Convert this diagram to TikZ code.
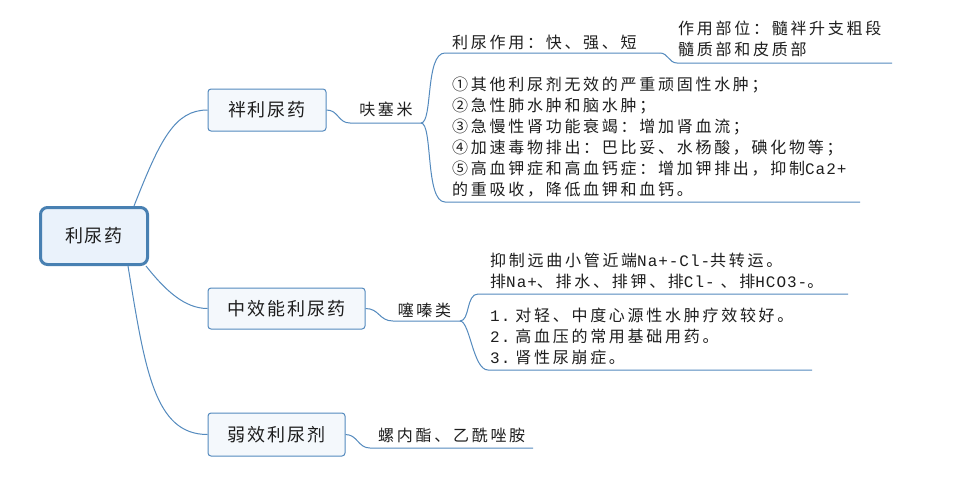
\documentclass[tikz,border=0pt]{standalone}
\usepackage{fontspec}
\usetikzlibrary{backgrounds}
\newfontfamily\cjk[LetterSpace=17]{Noto Sans CJK SC}
\newfontfamily\cjkbox[LetterSpace=11]{Noto Sans CJK SC}
\newfontfamily\cjkroot[LetterSpace=8]{Noto Sans CJK SC}
\newfontfamily\monolat[LetterSpace=6]{Liberation Mono}
\newcommand\lat[1]{{\monolat #1}}
\definecolor{lineblue}{RGB}{84,138,190}
\definecolor{rootborder}{RGB}{72,128,178}
\definecolor{rootfill}{RGB}{234,242,251}
\definecolor{boxfill}{RGB}{244,248,252}
\definecolor{txt}{RGB}{30,30,30}
\begin{document}
\begin{tikzpicture}[x=1pt,y=-1pt,
  conn/.style={draw=lineblue, line width=1pt},
  rootbox/.style={draw=rootborder, fill=rootfill, line width=3pt, rounded corners=7pt,
    minimum width=107pt, minimum height=57pt, inner sep=0pt, text=txt,
    font=\cjkroot\fontsize{18}{22}\selectfont},
  topicbox/.style={draw=lineblue, fill=boxfill, line width=1pt, rounded corners=3pt,
    inner sep=0pt, text=txt, font=\cjkbox\fontsize{18}{22}\selectfont},
  lbl/.style={inner sep=0pt, align=left, text=txt, font=\cjk\fontsize{16}{21}\selectfont},
  lblw/.style={lbl, anchor=west}]
\useasboundingbox (0,0) rectangle (957,477);

\node[rootbox] (root) at (94,236) {利尿药};
\node[topicbox, minimum width=118pt, minimum height=42pt] (b1) at (267,110) {袢利尿药};
\node[topicbox, minimum width=157pt, minimum height=41pt] (b2) at (286.5,308.5) {中效能利尿药};
\node[topicbox, minimum width=137pt, minimum height=43pt] (b3) at (276.5,434.5) {弱效利尿剂};

% labels
\node[lbl] (fu) at (386,109) {呋塞米};
\node[lblw] (s1) at (452,42) {利尿作用：快、强、短};
\node[lblw] (s3) at (678,39) {作用部位：髓袢升支粗段\\髓质部和皮质部};
\node[lblw] (s2) at (452,137) {①其他利尿剂无效的严重顽固性水肿；\\②急性肺水肿和脑水肿；\\③急慢性肾功能衰竭：增加肾血流；\\④加速毒物排出：巴比妥、水杨酸，碘化物等；\\⑤高血钾症和高血钙症：增加钾排出，抑制\lat{Ca2+}\\的重吸收，降低血钾和血钙。};
\node[lbl] (tz) at (424.5,310) {噻嗪类};
\node[lblw] (t1) at (490,271) {抑制远曲小管近端\lat{Na+-Cl-}共转运。\\排\lat{Na+}、排水、排钾、排\lat{Cl-\hspace{6pt}}、排\lat{HCO3-}。};
\node[lblw] (t2) at (490,336.5) {\lat{1.}\hspace{5pt}对轻、中度心源性水肿疗效较好。\\\lat{2.}\hspace{5pt}高血压的常用基础用药。\\\lat{3.}\hspace{5pt}肾性尿崩症。};
\node[lblw] (ld) at (378,435) {螺内酯、乙酰唑胺};

% connector end points
\coordinate (r1) at ([xshift=40pt]root.north);
\coordinate (r2) at ([xshift=52pt]root.south);
\coordinate (r3) at ([xshift=34pt]root.south);
\coordinate (fuL) at (350,123);
\coordinate (fuR) at (421,123);
\coordinate (s1L) at (445,53);
\coordinate (s1R) at (660,53);
\coordinate (s3L) at (677,63);
\coordinate (s3R) at (892,63);
\coordinate (s2L) at (445,202);
\coordinate (s2R) at (860,202);
\coordinate (tzL) at (393,321);
\coordinate (tzR) at (460,321);
\coordinate (t1L) at (478,294);
\coordinate (t1R) at (848,294);
\coordinate (t2L) at (488,370);
\coordinate (t2R) at (812,370);
\coordinate (ldL) at (370,448);
\coordinate (ldR) at (533,448);

\begin{scope}[on background layer]
\fill[white] (0,0) rectangle (957,477);
\draw[conn] (r1) .. controls +(26,-66) and +(-33,0) .. (b1.west);
\draw[conn] (r2) .. controls +(19,24) and +(-23,0) .. (b2.west);
\draw[conn] (r3) .. controls +(17,104) and +(-53,0) .. (b3.west);
\draw[conn] (b1.east) .. controls +(12,0) and +(-12,0) .. (fuL) -- (fuR);
\draw[conn] (fuR) .. controls +(12,0) and +(-20,0) .. (s1L) -- (s1R);
\draw[conn] (fuR) .. controls +(12,0) and +(-20,0) .. (s2L) -- (s2R);
\draw[conn] (s1R) .. controls +(8,0) and +(-8,0) .. (s3L) -- (s3R);
\draw[conn] (b2.east) .. controls +(14,0) and +(-14,0) .. (tzL) -- (tzR);
\draw[conn] (tzR) .. controls +(10,0) and +(-12,0) .. (t1L) -- (t1R);
\draw[conn] (tzR) .. controls +(10,0) and +(-15,0) .. (t2L) -- (t2R);
\draw[conn] (b3.east) .. controls +(12,0) and +(-12,0) .. (ldL) -- (ldR);
\end{scope}
\end{tikzpicture}
\end{document}
